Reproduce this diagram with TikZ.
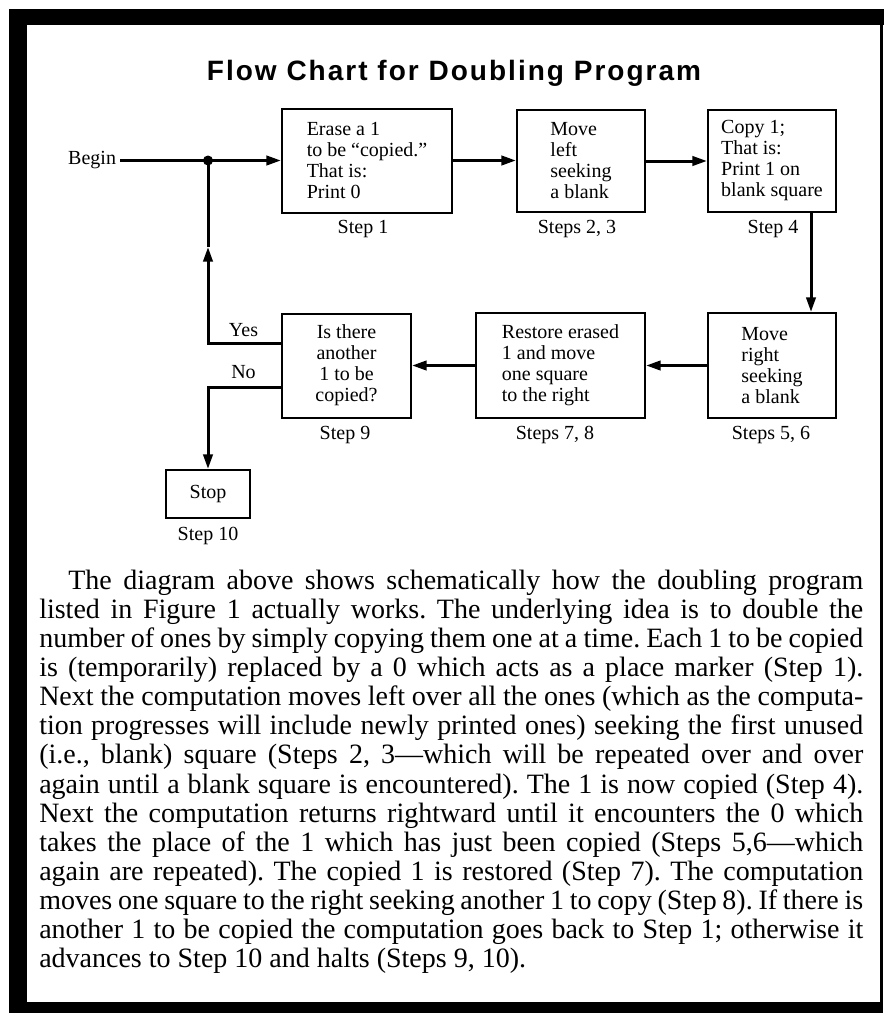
\documentclass[tikz,border=0pt]{standalone}
\usepackage{fontspec}
\usepackage{graphicx}
\setmainfont{Liberation Serif}
\newfontfamily\titlefont[LetterSpace=7.2]{Liberation Sans}
\usetikzlibrary{arrows.meta}
\def\pxu{0.75pt}
\newsavebox\lnbox
\newlength\parW
\setlength\parW{618pt}
\newcommand\jl[1]{\setbox\lnbox\hbox to\parW{#1}\ifnum\badness>10000 \sbox\lnbox{#1}\leavevmode\resizebox{\parW}{\height}{\usebox\lnbox}\else\leavevmode\box\lnbox\fi\par}
\hfuzz=100pt
\frenchspacing
\begin{document}
\begin{tikzpicture}[x=0.75pt,y=-0.75pt,
  txt/.style={font=\fontsize{15}{15.75}\selectfont},
  box/.style={draw, line width=1.5pt, inner sep=0pt, align=left, txt},
  lbl/.style={inner sep=0pt, txt},
  conn/.style={line width=2.25pt},
  tipa/.tip={Triangle[length=11pt,width=7pt]}]
\fill[white] (0,0) rectangle (885,1014);
\useasboundingbox (0,0) rectangle (885,1014);
% frame
\fill (9,9) rectangle (884,25);
\fill (9,9) rectangle (27,1013);
\fill (9,1002) rectangle (883,1013);
\fill (880,9) rectangle (883,1013);
% title
\node[inner sep=0pt, anchor=base, font=\titlefont\bfseries\fontsize{21}{24}\selectfont] (title) at (454,80) {Flow Chart for Doubling Program};
% boxes
\node[box, minimum width=170*\pxu, minimum height=104*\pxu] (b1) at (367,160.5) {Erase a 1\\to be “copied.”\\That is:\\Print 0};
\node[box, minimum width=128*\pxu, minimum height=102*\pxu] (b2) at (581,161) {Move\\left\\seeking\\a blank};
\node[box, minimum width=128*\pxu, minimum height=102*\pxu] (b3) at (772,161) {Copy 1;\\That is:\\Print 1 on\\blank square};
\node[box, minimum width=128*\pxu, minimum height=105*\pxu] (b56) at (772,365.5) {Move\\right\\seeking\\a blank};
\node[box, minimum width=169*\pxu, minimum height=105*\pxu] (b78) at (560.5,365.5) {Restore erased\\1 and move\\one square\\to the right};
\node[box, align=center, minimum width=129*\pxu, minimum height=104*\pxu] (b9) at (346.5,365.5) {Is there\\another\\1 to be\\copied?};
\node[box, align=center, minimum width=84*\pxu, minimum height=48*\pxu] (stop) at (208,494) {Stop};
% step labels
\node[lbl, anchor=base] (s1) at (363,233) {Step 1};
\node[lbl, anchor=base] (s23) at (577,233) {Steps 2, 3};
\node[lbl, anchor=base] (s4) at (773,233) {Step 4};
\node[lbl, anchor=base] (s9) at (345,439) {Step 9};
\node[lbl, anchor=base] (s78) at (555,439) {Steps 7, 8};
\node[lbl, anchor=base] (s56) at (771,439) {Steps 5, 6};
\node[lbl, anchor=base] (s10) at (208,540) {Step 10};
\node[lbl, anchor=base] (yes) at (243.5,336) {Yes};
\node[lbl, anchor=base] (no) at (243.5,378) {No};
\node[inner sep=0pt, outer sep=3pt, anchor=east, txt] (begin) at (120,160.5) {Begin};
% coordinates
\coordinate (junc) at (208,160.5);
\coordinate (upmid) at (208,247);
\coordinate (yesy) at (0,343);
\coordinate (noy) at (0,387);
\coordinate (dx) at (811,0);
% connectors
\draw[conn,-tipa] (begin.east) -- (b1.west);
\fill (junc) circle (5);
\draw[conn,-tipa] (b1.east) -- (b1.east -| b2.west);
\draw[conn,-tipa] (b2.east) -- (b3.west);
\draw[conn,-tipa] (b3.south -| dx) -- (b56.north -| dx);
\draw[conn,-tipa] (b56.west) -- (b78.east);
\draw[conn,-tipa] (b78.west) -- (b9.east);
\draw[conn,-tipa] (b9.west |- yesy) -| (upmid);
\draw[conn] (upmid) -- (junc);
\draw[conn,-tipa] (b9.west |- noy) -| (stop.north);
% paragraph
\node[inner sep=0pt, anchor=base west] (para) at (39,589.3) {\parbox[t]{\parW}{\fontsize{21}{21.83}\selectfont\frenchspacing\parskip=0pt\parindent=0pt
\jl{\hspace*{21.75pt}The diagram above shows schematically how the doubling program}
\jl{listed in Figure 1 actually works. The underlying idea is to double the}
\jl{number of ones by simply copying them one at a time. Each 1 to be copied}
\jl{is (temporarily) replaced by a 0 which acts as a place marker (Step 1).}
\jl{Next the computation moves left over all the ones (which as the computa-}
\jl{tion progresses will include newly printed ones) seeking the first unused}
\jl{(i.e., blank) square (Steps 2, 3—which will be repeated over and over}
\jl{again until a blank square is encountered). The 1 is now copied (Step 4).}
\jl{Next the computation returns rightward until it encounters the 0 which}
\jl{takes the place of the 1 which has just been copied (Steps 5,6—which}
\jl{again are repeated). The copied 1 is restored (Step 7). The computation}
\jl{moves one square to the right seeking another 1 to copy (Step 8). If there is}
\jl{another 1 to be copied the computation goes back to Step 1; otherwise it}
\leavevmode\hbox{advances to Step 10 and halts (Steps 9, 10).}\par}};
\end{tikzpicture}
\end{document}
